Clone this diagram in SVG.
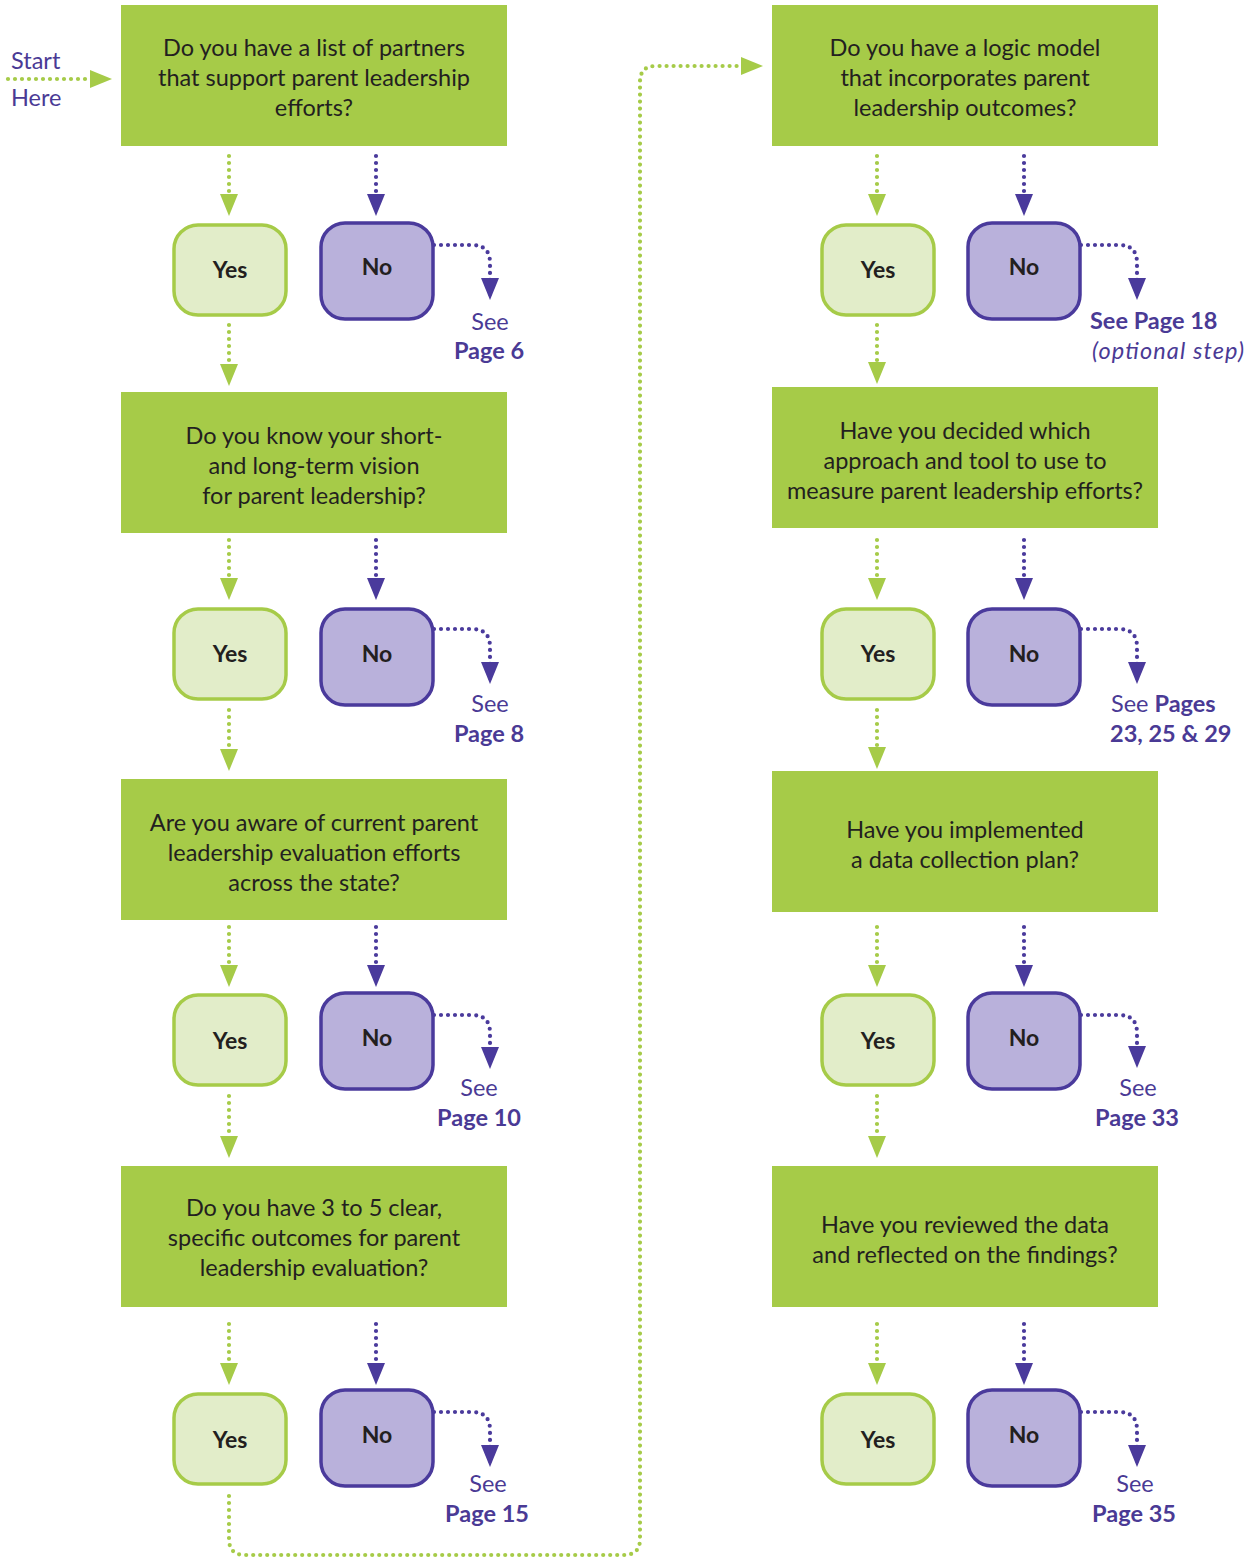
<svg xmlns="http://www.w3.org/2000/svg" width="1257" height="1558" viewBox="0 0 1257 1558">
<style>
.q{fill:#a6cb48}
.yes rect{fill:#e2edc9;stroke:#a6cb48;stroke-width:3.5}
.no rect{fill:#b9b1db;stroke:#4a3a9c;stroke-width:3.5}
.qt{font-family:Lato,"Open Sans",sans-serif;font-size:23.5px;fill:#231f20;text-anchor:middle}
.bt{font-family:Lato,"Open Sans",sans-serif;font-size:23px;font-weight:bold;fill:#231f20;text-anchor:middle}
.pt{font-family:Lato,"Open Sans",sans-serif;font-size:23.5px;fill:#4a3a95}
.pb{font-weight:bold}
.c{text-anchor:middle}
.g{fill:none;stroke:#a6cb48;stroke-width:4.2;stroke-dasharray:0 7;stroke-linecap:round}
.p{fill:none;stroke:#4a3a9c;stroke-width:4.2;stroke-dasharray:0 7;stroke-linecap:round}
.g.a{marker-end:url(#ag)}
.p.a{marker-end:url(#ap)}
</style>
<defs>
<marker id="ag" markerUnits="userSpaceOnUse" viewBox="0 0 22 18" refX="16" refY="9" markerWidth="22" markerHeight="18" orient="auto"><path d="M0,0 L22,9 L0,18 z" fill="#a6cb48"/></marker>
<marker id="ap" markerUnits="userSpaceOnUse" viewBox="0 0 22 18" refX="16" refY="9" markerWidth="22" markerHeight="18" orient="auto"><path d="M0,0 L22,9 L0,18 z" fill="#4a3a9c"/></marker>
</defs>
<rect width="1257" height="1558" fill="#ffffff"/>

<g id="connectors">
<path class="g a" d="M8,79 H106"/>
<path class="g a" d="M229,156 V210"/>
<path class="p a" d="M376,156 V210"/>
<path class="g a" d="M229,325 V380"/>
<path class="p a" d="M434,245 H472 Q490,245 490,263 V294"/>
<path class="g a" d="M229,540 V594"/>
<path class="p a" d="M376,540 V594"/>
<path class="g a" d="M229,710 V765"/>
<path class="p a" d="M434,629 H472 Q490,629 490,647 V678"/>
<path class="g a" d="M229,927 V981"/>
<path class="p a" d="M376,927 V981"/>
<path class="g a" d="M229,1096 V1152"/>
<path class="p a" d="M434,1015 H472 Q490,1015 490,1033 V1063"/>
<path class="g a" d="M229,1324 V1379"/>
<path class="p a" d="M376,1324 V1379"/>
<path class="p a" d="M434,1412 H472 Q490,1412 490,1430 V1461"/>
<path class="g a" d="M229,1496 V1539 Q229,1555 245,1555 H624 Q640,1555 640,1539 V82 Q640,66 656,66 H757"/>
<path class="g a" d="M877,156 V210"/>
<path class="p a" d="M1024,156 V210"/>
<path class="g a" d="M877,325 V378"/>
<path class="p a" d="M1081,245 H1119 Q1137,245 1137,263 V294"/>
<path class="g a" d="M877,540 V594"/>
<path class="p a" d="M1024,540 V594"/>
<path class="g a" d="M877,710 V763"/>
<path class="p a" d="M1081,629 H1119 Q1137,629 1137,647 V678"/>
<path class="g a" d="M877,927 V981"/>
<path class="p a" d="M1024,927 V981"/>
<path class="g a" d="M877,1096 V1152"/>
<path class="p a" d="M1081,1015 H1119 Q1137,1015 1137,1033 V1062"/>
<path class="g a" d="M877,1324 V1379"/>
<path class="p a" d="M1024,1324 V1379"/>
<path class="p a" d="M1081,1412 H1119 Q1137,1412 1137,1430 V1461"/>
</g>

<g id="start">
<text class="pt" x="11" y="69">Start</text>
<text class="pt" x="11" y="106">Here</text>
</g>

<g id="q1"><rect class="q" x="121" y="5" width="386" height="141"/>
<text class="qt" x="314" y="56">Do you have a list of partners</text>
<text class="qt" x="314" y="86">that support parent leadership</text>
<text class="qt" x="314" y="116">efforts?</text></g>
<g id="q2"><rect class="q" x="121" y="392" width="386" height="141"/>
<text class="qt" x="314" y="444">Do you know your short-</text>
<text class="qt" x="314" y="474">and long-term vision</text>
<text class="qt" x="314" y="504">for parent leadership?</text></g>
<g id="q3"><rect class="q" x="121" y="779" width="386" height="141"/>
<text class="qt" x="314" y="831">Are you aware of current parent</text>
<text class="qt" x="314" y="861">leadership evaluation efforts</text>
<text class="qt" x="314" y="891">across the state?</text></g>
<g id="q4"><rect class="q" x="121" y="1166" width="386" height="141"/>
<text class="qt" x="314" y="1216">Do you have 3 to 5 clear,</text>
<text class="qt" x="314" y="1246">specific outcomes for parent</text>
<text class="qt" x="314" y="1276">leadership evaluation?</text></g>

<g id="q5"><rect class="q" x="772" y="5" width="386" height="141"/>
<text class="qt" x="965" y="56">Do you have a logic model</text>
<text class="qt" x="965" y="86">that incorporates parent</text>
<text class="qt" x="965" y="116">leadership outcomes?</text></g>
<g id="q6"><rect class="q" x="772" y="387" width="386" height="141"/>
<text class="qt" x="965" y="439">Have you decided which</text>
<text class="qt" x="965" y="469">approach and tool to use to</text>
<text class="qt" x="965" y="499">measure parent leadership efforts?</text></g>
<g id="q7"><rect class="q" x="772" y="771" width="386" height="141"/>
<text class="qt" x="965" y="838">Have you implemented</text>
<text class="qt" x="965" y="868">a data collection plan?</text></g>
<g id="q8"><rect class="q" x="772" y="1166" width="386" height="141"/>
<text class="qt" x="965" y="1233">Have you reviewed the data</text>
<text class="qt" x="965" y="1263">and reflected on the findings?</text></g>

<g id="y1" class="yes"><rect x="174" y="225" width="112" height="90" rx="24"/><text class="bt" x="230" y="278">Yes</text></g>
<g id="n1" class="no"><rect x="321" y="223" width="112" height="96" rx="24"/><text class="bt" x="377" y="275">No</text></g>
<g id="y2" class="yes"><rect x="174" y="609" width="112" height="90" rx="24"/><text class="bt" x="230" y="662">Yes</text></g>
<g id="n2" class="no"><rect x="321" y="609" width="112" height="96" rx="24"/><text class="bt" x="377" y="662">No</text></g>
<g id="y3" class="yes"><rect x="174" y="995" width="112" height="90" rx="24"/><text class="bt" x="230" y="1049">Yes</text></g>
<g id="n3" class="no"><rect x="321" y="993" width="112" height="96" rx="24"/><text class="bt" x="377" y="1046">No</text></g>
<g id="y4" class="yes"><rect x="174" y="1394" width="112" height="90" rx="24"/><text class="bt" x="230" y="1448">Yes</text></g>
<g id="n4" class="no"><rect x="321" y="1390" width="112" height="96" rx="24"/><text class="bt" x="377" y="1443">No</text></g>

<g id="y5" class="yes"><rect x="822" y="225" width="112" height="90" rx="24"/><text class="bt" x="878" y="278">Yes</text></g>
<g id="n5" class="no"><rect x="968" y="223" width="112" height="96" rx="24"/><text class="bt" x="1024" y="275">No</text></g>
<g id="y6" class="yes"><rect x="822" y="609" width="112" height="90" rx="24"/><text class="bt" x="878" y="662">Yes</text></g>
<g id="n6" class="no"><rect x="968" y="609" width="112" height="96" rx="24"/><text class="bt" x="1024" y="662">No</text></g>
<g id="y7" class="yes"><rect x="822" y="995" width="112" height="90" rx="24"/><text class="bt" x="878" y="1049">Yes</text></g>
<g id="n7" class="no"><rect x="968" y="993" width="112" height="96" rx="24"/><text class="bt" x="1024" y="1046">No</text></g>
<g id="y8" class="yes"><rect x="822" y="1394" width="112" height="90" rx="24"/><text class="bt" x="878" y="1448">Yes</text></g>
<g id="n8" class="no"><rect x="968" y="1390" width="112" height="96" rx="24"/><text class="bt" x="1024" y="1443">No</text></g>

<g id="s1"><text class="pt c" x="490" y="330">See</text><text class="pt c pb" x="489" y="359">Page 6</text></g>
<g id="s2"><text class="pt c" x="490" y="712">See</text><text class="pt c pb" x="489" y="742">Page 8</text></g>
<g id="s3"><text class="pt c" x="479" y="1096">See</text><text class="pt c pb" x="479" y="1126">Page 10</text></g>
<g id="s4"><text class="pt c" x="488" y="1492">See</text><text class="pt c pb" x="487" y="1522">Page 15</text></g>
<g id="s5"><text class="pt pb" x="1090" y="329">See Page 18</text><text class="pt" x="1092" y="359" font-style="italic" textLength="152" lengthAdjust="spacing">(optional step)</text></g>
<g id="s6"><text class="pt" x="1111" y="712">See <tspan class="pb">Pages</tspan></text><text class="pt pb" x="1110" y="742">23, 25 &amp; 29</text></g>
<g id="s7"><text class="pt c" x="1138" y="1096">See</text><text class="pt c pb" x="1137" y="1126">Page 33</text></g>
<g id="s8"><text class="pt c" x="1135" y="1492">See</text><text class="pt c pb" x="1134" y="1522">Page 35</text></g>
</svg>
